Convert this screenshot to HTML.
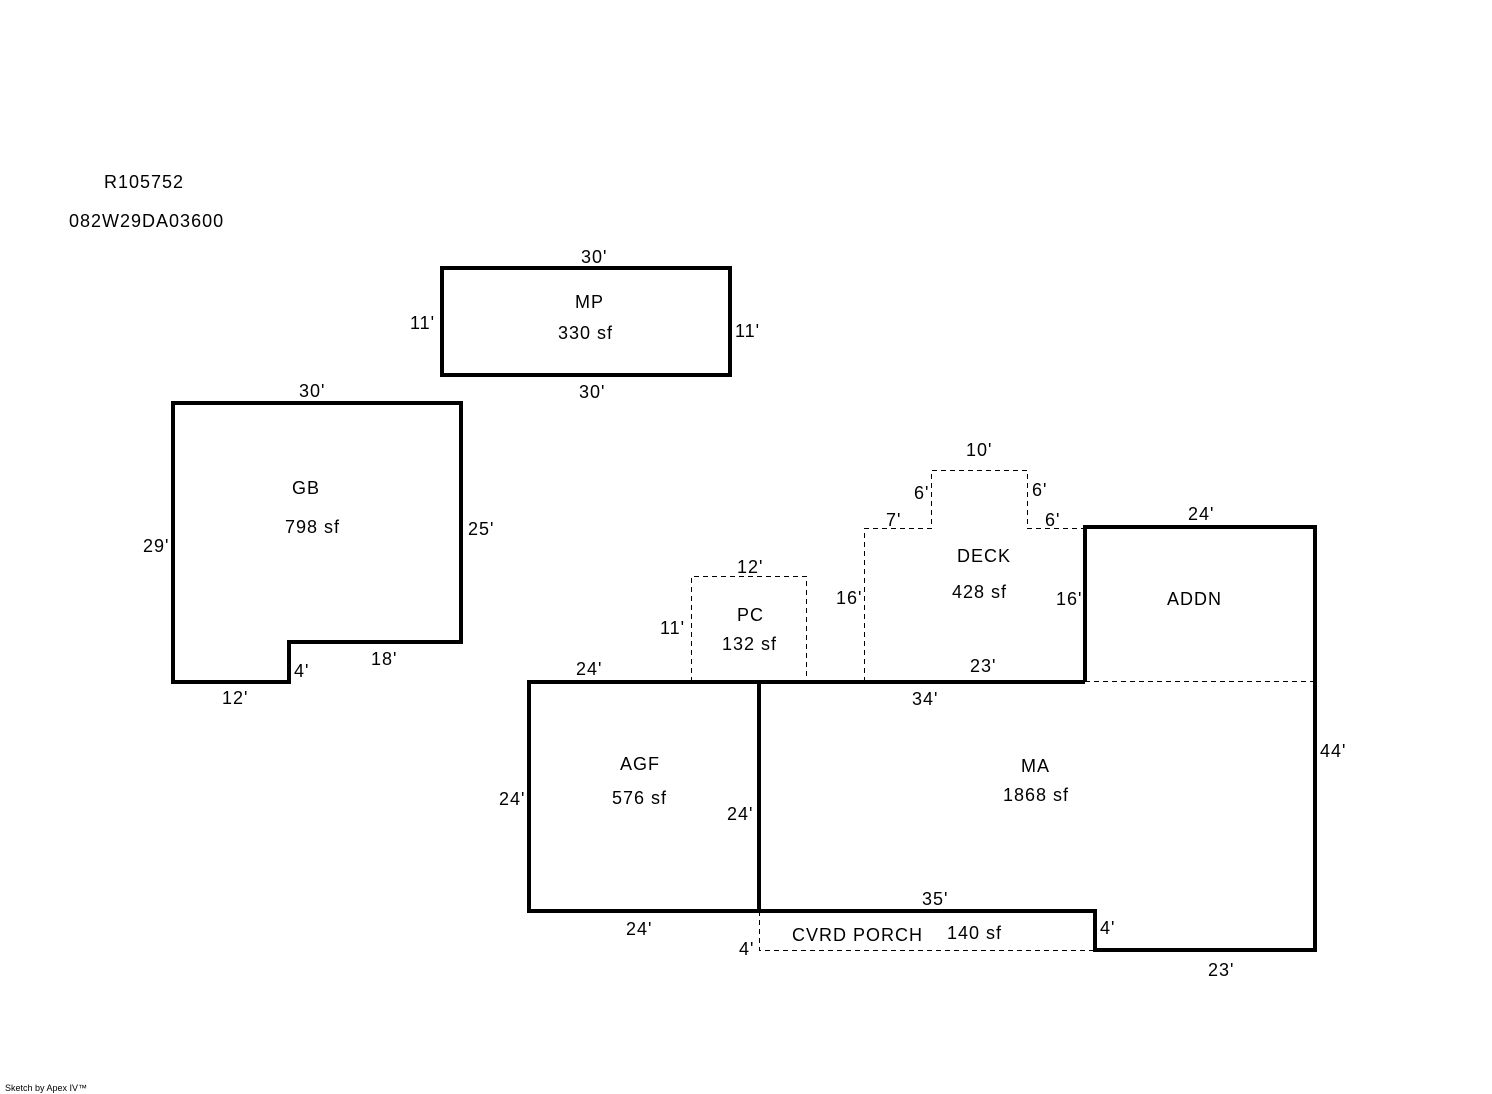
<!DOCTYPE html>
<html><head><style>
html,body{margin:0;padding:0;background:#fff;width:1492px;height:1094px;overflow:hidden}
svg text{font-family:"Liberation Sans",Arial,sans-serif;font-size:18px;fill:#000;letter-spacing:1px}
</style></head><body>
<svg width="1492" height="1094" xmlns="http://www.w3.org/2000/svg">
<g fill="none" stroke="#000" stroke-width="1" stroke-dasharray="5,4">
<polyline points="691.5,682 691.5,576.5 806.5,576.5 806.5,682"/>
<polyline points="864.5,682 864.5,528.5 931.5,528.5 931.5,470.5 1027.5,470.5 1027.5,528.5 1085,528.5"/>
<line x1="1085" y1="681.5" x2="1315" y2="681.5"/>
<polyline points="759.5,911 759.5,950.5 1095,950.5"/>
</g>
<g fill="none" stroke="#000" stroke-width="4" stroke-linejoin="miter">
<rect x="442" y="268" width="288" height="107"/>
<polygon points="173,403 461,403 461,642 289,642 289,682 173,682"/>
<rect x="529" y="682" width="230" height="229"/>
<line x1="759" y1="682" x2="1085" y2="682"/>
<polyline points="1085,682 1085,527 1315,527 1315,950 1095,950 1095,911 759,911"/>
</g>
<text x="104" y="188">R105752</text>
<text x="69" y="227">082W29DA03600</text>
<text x="581" y="263">30'</text>
<text x="575" y="308">MP</text>
<text x="558" y="339">330 sf</text>
<text x="410" y="329">11'</text>
<text x="735" y="337">11'</text>
<text x="579" y="398">30'</text>
<text x="299" y="397">30'</text>
<text x="292" y="494">GB</text>
<text x="285" y="533">798 sf</text>
<text x="143" y="552">29'</text>
<text x="468" y="535">25'</text>
<text x="371" y="665">18'</text>
<text x="294" y="677">4'</text>
<text x="222" y="704">12'</text>
<text x="966" y="456">10'</text>
<text x="914" y="499">6'</text>
<text x="1032" y="496">6'</text>
<text x="886" y="526">7'</text>
<text x="1045" y="526">6'</text>
<text x="1188" y="520">24'</text>
<text x="957" y="562">DECK</text>
<text x="952" y="598">428 sf</text>
<text x="737" y="573">12'</text>
<text x="836" y="604">16'</text>
<text x="1056" y="605">16'</text>
<text x="1167" y="605">ADDN</text>
<text x="737" y="621">PC</text>
<text x="722" y="650">132 sf</text>
<text x="660" y="634">11'</text>
<text x="576" y="675">24'</text>
<text x="970" y="672">23'</text>
<text x="912" y="705">34'</text>
<text x="1320" y="757">44'</text>
<text x="620" y="770">AGF</text>
<text x="1021" y="772">MA</text>
<text x="612" y="804">576 sf</text>
<text x="1003" y="801">1868 sf</text>
<text x="499" y="805">24'</text>
<text x="727" y="820">24'</text>
<text x="922" y="905">35'</text>
<text x="626" y="935">24'</text>
<text x="1100" y="934">4'</text>
<text x="792" y="941">CVRD PORCH</text>
<text x="947" y="939">140 sf</text>
<text x="739" y="955">4'</text>
<text x="1208" y="976">23'</text>
<text x="5" y="1091" style="font-size:9px;letter-spacing:0">Sketch by Apex IV™</text>
</svg>
</body></html>
